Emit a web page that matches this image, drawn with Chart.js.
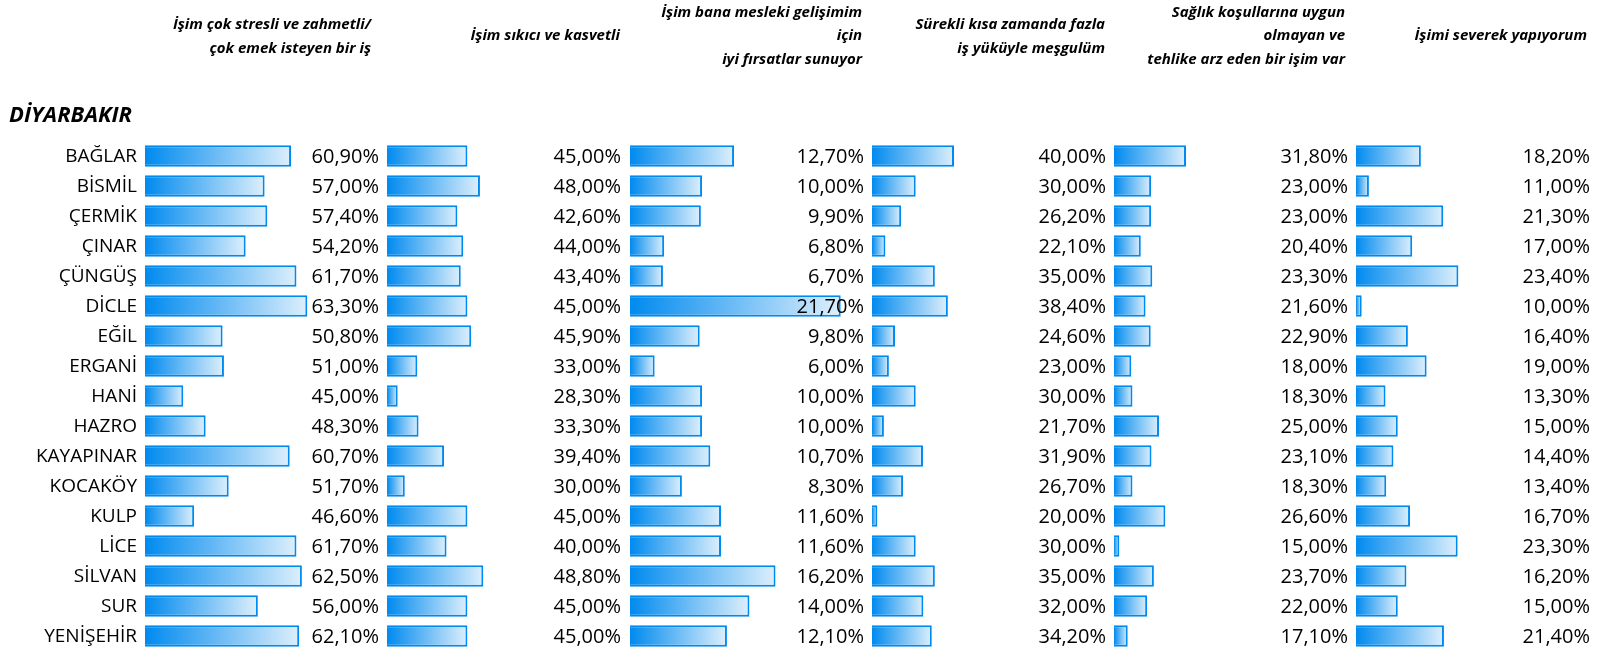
<!DOCTYPE html>
<html lang="tr">
<head>
<meta charset="utf-8">
<title>DİYARBAKIR</title>
<script src="https://cdn.jsdelivr.net/npm/chart.js@4.4.1/dist/chart.umd.min.js"></script>
<style>
  html, body { margin: 0; padding: 0; background: #fff; }
  #wrap { position: relative; width: 1602px; height: 653px; overflow: hidden; }
  #wrap canvas { position: absolute; top: 0; }
</style>
</head>
<body>
<div id="wrap">
  <canvas id="c0" width="387" height="653" style="left:0px"></canvas>
  <canvas id="c1" width="242" height="653" style="left:387px"></canvas>
  <canvas id="c2" width="242" height="653" style="left:630px"></canvas>
  <canvas id="c3" width="242" height="653" style="left:872px"></canvas>
  <canvas id="c4" width="242" height="653" style="left:1114px"></canvas>
  <canvas id="c5" width="242" height="653" style="left:1356px"></canvas>
</div>
<script>
// data
const districts = ['BAĞLAR', 'BİSMİL', 'ÇERMİK', 'ÇINAR', 'ÇÜNGÜŞ', 'DİCLE', 'EĞİL', 'ERGANİ', 'HANİ',
  'HAZRO', 'KAYAPINAR', 'KOCAKÖY', 'KULP', 'LİCE', 'SİLVAN', 'SUR', 'YENİŞEHİR'];

const stresli = [60.9, 57.0, 57.4, 54.2, 61.7, 63.3, 50.8, 51.0, 45.0, 48.3, 60.7, 51.7, 46.6, 61.7, 62.5, 56.0, 62.1];
const sikici = [45.0, 48.0, 42.6, 44.0, 43.4, 45.0, 45.9, 33.0, 28.3, 33.3, 39.4, 30.0, 45.0, 40.0, 48.8, 45.0, 45.0];
const gelisim = [12.7, 10.0, 9.9, 6.8, 6.7, 21.7, 9.8, 6.0, 10.0, 10.0, 10.7, 8.3, 11.6, 11.6, 16.2, 14.0, 12.1];
const isYuku = [40.0, 30.0, 26.2, 22.1, 35.0, 38.4, 24.6, 23.0, 30.0, 21.7, 31.9, 26.7, 20.0, 30.0, 35.0, 32.0, 34.2];
const saglik = [31.8, 23.0, 23.0, 20.4, 23.3, 21.6, 22.9, 18.0, 18.3, 25.0, 23.1, 18.3, 26.6, 15.0, 23.7, 22.0, 17.1];
const severek = [18.2, 11.0, 21.3, 17.0, 23.4, 10.0, 16.4, 19.0, 13.3, 15.0, 14.4, 13.4, 16.7, 23.3, 16.2, 15.0, 21.4];

const headers = [
  ['İşim çok stresli ve zahmetli/', 'çok emek isteyen bir iş'],
  ['İşim sıkıcı ve kasvetli'],
  ['İşim bana mesleki gelişimim', 'için', 'iyi fırsatlar sunuyor'],
  ['Sürekli kısa zamanda fazla', 'iş yüküyle meşgulüm'],
  ['Sağlık koşullarına uygun', 'olmayan ve', 'tehlike arz eden bir işim var'],
  ['İşimi severek yapıyorum']
];
const title = 'DİYARBAKIR';

// data bar range of each column (excel scales bars from lowest to highest)
const axisMin = [39.35, 25.74, 3.92, 18.59, 13.64, 9.21];
const axisMax = [75.06, 83.69, 24.34, 81.78, 74.69, 42.75];

const allSeries = [stresli, sikici, gelisim, isYuku, saglik, severek];
const headerRight = [371, 620, 862, 1105, 1345, 1587];
const canvasLeft = [0, 387, 630, 872, 1114, 1356];

const barBlue = '#008AEF';
const barLight = '#DDEFFC';
const FONT = "'Open Sans', 'DejaVu Sans', sans-serif";

function pct(v) {
  return v.toFixed(2).replace('.', ',') + '%';
}

// draws district names, percent texts, the column headers and the province title
const cellText = {
  id: 'cellText',
  afterDatasetsDraw(chart, args, opts) {
    const ctx = chart.ctx;
    const area = chart.chartArea;
    const meta = chart.getDatasetMeta(0);
    const vals = chart.data.datasets[0].data;
    ctx.save();
    ctx.fillStyle = '#000';
    ctx.textAlign = 'right';
    ctx.textBaseline = 'middle';
    meta.data.forEach((bar, i) => {
      ctx.font = '20px ' + FONT;
      ctx.fillText(pct(vals[i]), area.left + 234, bar.y + 1);
      if (opts.names) {
        ctx.font = '19px ' + FONT;
        ctx.fillText(chart.data.labels[i], area.left - 8, bar.y + 1);
      }
    });

    // header
    ctx.font = 'italic bold 15px ' + FONT;
    let ys = [36];
    if (opts.lines.length == 2) ys = [24.5, 48.5];
    if (opts.lines.length == 3) ys = [12.5, 36, 59.5];
    opts.lines.forEach((l, i) => ctx.fillText(l, opts.right, ys[i]));

    if (opts.title) {
      ctx.textAlign = 'left';
      ctx.textBaseline = 'alphabetic';
      ctx.font = 'italic bold 22px ' + FONT;
      ctx.fillText(opts.title, 9, 122);
    }
    ctx.restore();
  }
};

function gradientFill(c) {
  const chart = c.chart;
  const area = chart.chartArea;
  if (!area || c.type !== 'data') return barBlue;
  const x1 = chart.scales.x.getPixelForValue(c.raw);
  const g = chart.ctx.createLinearGradient(area.left, 0, Math.max(x1, area.left + 1), 0);
  g.addColorStop(0, barBlue);
  g.addColorStop(1, barLight);
  return g;
}

for (let k = 0; k < 6; k++) {
  const first = k == 0;
  new Chart(document.getElementById('c' + k), {
    type: 'bar',
    data: {
      labels: districts,
      datasets: [{
        data: allSeries[k],
        backgroundColor: gradientFill,
        borderColor: barBlue,
        borderWidth: 2,
        borderSkipped: false,
        barPercentage: 0.72,
        categoryPercentage: 1
      }]
    },
    options: {
      indexAxis: 'y',
      responsive: false,
      animation: false,
      layout: { padding: { top: 141, bottom: 2, left: first ? 145 : 0, right: 0 } },
      scales: {
        x: { display: false, min: axisMin[k], max: axisMax[k] },
        y: { display: false }
      },
      plugins: {
        legend: { display: false },
        tooltip: { enabled: false },
        cellText: {
          lines: headers[k],
          right: headerRight[k] - canvasLeft[k],
          names: first,
          title: first ? title : null
        }
      }
    },
    plugins: [cellText]
  });
}
</script>
</body>
</html>
